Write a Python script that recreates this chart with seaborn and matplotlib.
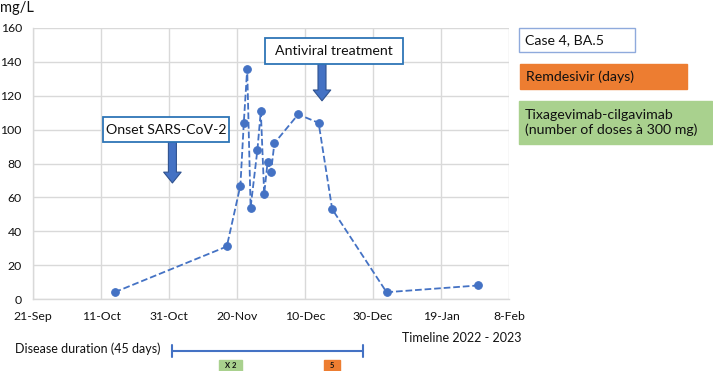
import matplotlib
matplotlib.use('Agg')
import matplotlib.pyplot as plt
import matplotlib.dates as mdates
import matplotlib.transforms as mtransforms
from matplotlib.patches import Rectangle
import seaborn as sns
import pandas as pd

# CRP values (mg/L)
dates = ['2022-10-15', '2022-11-17', '2022-11-21', '2022-11-22', '2022-11-23',
         '2022-11-24', '2022-11-26', '2022-11-27', '2022-11-28', '2022-11-29',
         '2022-11-30', '2022-12-01', '2022-12-08', '2022-12-14', '2022-12-18',
         '2023-01-03', '2023-01-30']
crp = [4, 31, 67, 104, 136, 54, 88, 111, 62, 81, 75, 92, 109, 104, 53, 4, 8]

tick_dates = ['2022-09-21', '2022-10-11', '2022-10-31', '2022-11-20', '2022-12-10',
              '2022-12-30', '2023-01-19', '2023-02-08']
tick_labels = ['21-Sep', '11-Oct', '31-Oct', '20-Nov', '10-Dec', '30-Dec', '19-Jan', '8-Feb']
y_ticks = [0, 20, 40, 60, 80, 100, 120, 140, 160]

onset_date = '2022-11-01'
antiviral_date = '2022-12-15'
duration_end = '2022-12-27'
tixa_date = '2022-11-18'
remdesivir_date = '2022-12-18'

BLUE = '#4472C4'
DARK_BLUE = '#2F528F'
ORANGE = '#ED7D31'
GREEN = '#A9D18E'
TXT = '#111111'

W, H = 713, 371

sns.set_style('white')
plt.rcParams['font.family'] = ['Lato', 'DejaVu Sans']

df = pd.DataFrame({'date': pd.to_datetime(dates), 'crp': crp})

fig = plt.figure(figsize=(W / 100, H / 100), dpi=100)
ax = fig.add_axes([33 / W, 1 - 299 / H, 476 / W, 271 / H])

sns.lineplot(data=df, x='date', y='crp', ax=ax, sort=False, color=BLUE,
             linestyle='--', linewidth=1.3, marker='o', markersize=5.5,
             markeredgecolor=BLUE, zorder=3)

ax.set_xlim(pd.Timestamp(tick_dates[0]), pd.Timestamp(tick_dates[-1]))
ax.set_ylim(0, 160)
ax.set_xticks(pd.to_datetime(tick_dates))
ax.set_xticklabels(tick_labels)
ax.set_yticks(y_ticks)
ax.tick_params(axis='both', labelsize=8.8, colors=TXT, length=0)
ax.tick_params(axis='x', pad=9)
ax.tick_params(axis='y', pad=8)
ax.set_xlabel('')
ax.set_ylabel('')
ax.grid(True, color='#d9d9d9', linewidth=1.0)
for s in ['top', 'right']:
    ax.spines[s].set_visible(False)
for s in ['left', 'bottom']:
    ax.spines[s].set_color('#d9d9d9')
    ax.spines[s].set_linewidth(1.0)

fig.text(0.0, 1 - 8 / H, 'mg/L', fontsize=10.5, color=TXT, va='center', ha='left')


def fig_box(x0, y0, x1, y1, fc, ec, lw=1.0):
    # rectangle given in pixels from the top-left corner
    fig.patches.append(Rectangle((x0 / W, 1 - y1 / H), (x1 - x0) / W, (y1 - y0) / H,
                                 transform=fig.transFigure, fc=fc, ec=ec, lw=lw, zorder=5))


# annotation boxes with block arrows
fig_box(103, 117, 229, 142, 'white', '#2E75B6', 1.3)
fig.text(166 / W, 1 - 129.5 / H, 'Onset SARS-CoV-2', fontsize=10.2, color=TXT,
         ha='center', va='center', zorder=6)
fig_box(265, 38, 403, 64, 'white', '#2E75B6', 1.3)
fig.text(334 / W, 1 - 51 / H, 'Antiviral treatment', fontsize=10.2, color=TXT,
         ha='center', va='center', zorder=6)

arrow_kw = dict(arrowstyle='simple,head_length=0.65,head_width=1.05,tail_width=0.48',
                mutation_scale=12, fc=BLUE, ec=DARK_BLUE, lw=0.8, shrinkA=0, shrinkB=0)
ax.annotate('', xy=(pd.Timestamp(onset_date), 68.5), xytext=(pd.Timestamp(onset_date), 92.7),
            arrowprops=arrow_kw, zorder=4)
ax.annotate('', xy=(pd.Timestamp(antiviral_date), 117), xytext=(pd.Timestamp(antiviral_date), 138.7),
            arrowprops=arrow_kw, zorder=4)

# legend-like boxes on the right
fig_box(519, 28, 635, 52, 'white', '#8FAADC', 1.0)
fig.text(525 / W, 1 - 40 / H, 'Case 4, BA.5', fontsize=10.2, color=TXT, va='center', ha='left',
         zorder=6)
fig_box(520, 64, 687, 89, ORANGE, ORANGE)
fig.text(526 / W, 1 - 76.5 / H, 'Remdesivir (days)', fontsize=10.2, color=TXT, va='center',
         ha='left', zorder=6)
fig_box(519, 101, 712, 144, GREEN, GREEN)
fig.text(525 / W, 1 - 122.5 / H, 'Tixagevimab-cilgavimab\n(number of doses à 300 mg)',
         fontsize=10.2, color=TXT, va='center', ha='left', linespacing=1.2, zorder=6)

fig.text(462 / W, 1 - 338 / H, 'Timeline 2022 - 2023', fontsize=9, color=TXT,
         ha='center', va='center')
fig.text(15 / W, 1 - 349 / H, 'Disease duration (45 days)', fontsize=9, color=TXT,
         ha='left', va='center')

# disease duration bar below the axis (x in data, y in figure)
trans = mtransforms.blended_transform_factory(ax.transData, fig.transFigure)
x0 = mdates.date2num(pd.Timestamp(onset_date))
x1 = mdates.date2num(pd.Timestamp(duration_end))
line_y = 1 - 350.5 / H
ax.plot([x0, x1], [line_y, line_y], transform=trans, color=BLUE, lw=1.5, clip_on=False)
for xv in (x0, x1):
    ax.plot([xv, xv], [line_y - 6 / H, line_y + 6 / H], transform=trans, color=BLUE, lw=1.5,
            clip_on=False)

# dose boxes under the bar
for d, label, color, width_days in [(tixa_date, 'X 2', GREEN, 6.8), (remdesivir_date, '5', ORANGE, 4.7)]:
    xc = mdates.date2num(pd.Timestamp(d))
    ax.add_patch(Rectangle((xc - width_days / 2, 1 - 371 / H), width_days, 11 / H,
                           transform=trans, fc=color, ec=color, clip_on=False))
    ax.text(xc, 1 - 365.5 / H, label, transform=trans, fontsize=5.5, fontweight='bold',
            color=TXT, ha='center', va='center', clip_on=False)

fig.savefig('out.png', dpi=100)
plt.close(fig)
